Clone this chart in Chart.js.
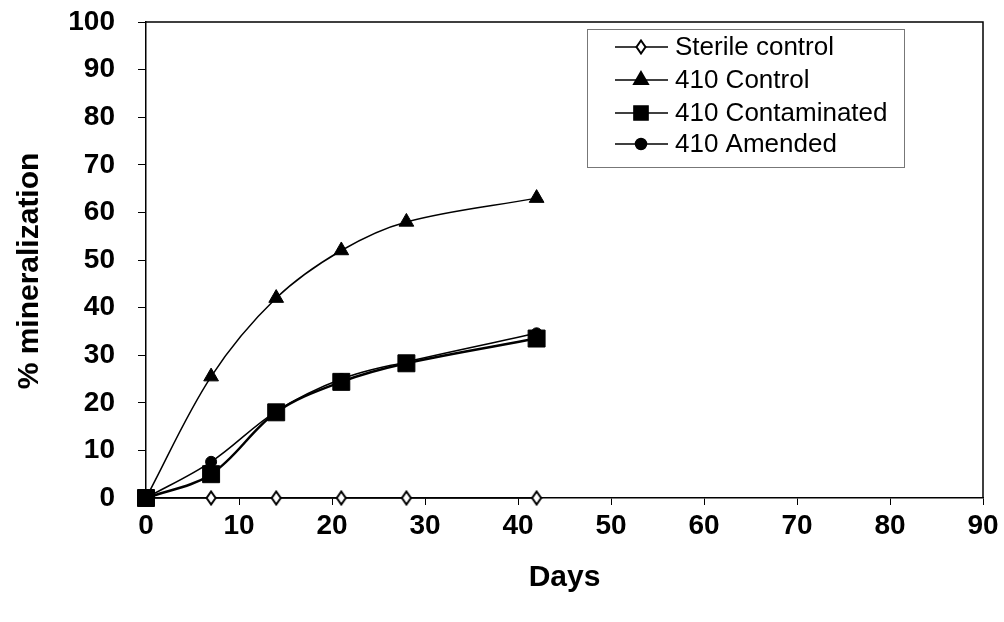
<!DOCTYPE html>
<html>
<head>
<meta charset="utf-8">
<script src="https://cdn.jsdelivr.net/npm/chart.js@4.4.1/dist/chart.umd.min.js"></script>
<style>
html,body{margin:0;padding:0;background:#fff;}
#wrap{width:1004px;height:622px;position:relative;}
</style>
</head>
<body>
<div id="wrap"><canvas id="c" width="1004" height="622"></canvas></div>
<script>
const days = [0, 7, 14, 21, 28, 42];
const sterileControl = [0, 0, 0, 0, 0, 0];
const control410 = [0, 25.5, 42, 52, 58, 63];
const contaminated410 = [0, 5, 18, 24.4, 28.3, 33.5];
const amended410 = [0, 7.6, 18.2, 25, 28.6, 34.6];
const seriesLabels = ['Sterile control', '410 Control', '410 Contaminated', '410 Amended'];
const xTicks = [0, 10, 20, 30, 40, 50, 60, 70, 80, 90];
const yTicks = [0, 10, 20, 30, 40, 50, 60, 70, 80, 90, 100];
const xTitle = 'Days';
const yTitle = '% mineralization';

// elongated open diamond marker
function diamondImg(){
  const cv = document.createElement('canvas');
  cv.width = 12; cv.height = 16;
  const g = cv.getContext('2d');
  g.beginPath();
  g.moveTo(6, 1.5); g.lineTo(10.5, 8); g.lineTo(6, 14.5); g.lineTo(1.5, 8); g.closePath();
  g.fillStyle = '#fff'; g.fill();
  g.lineWidth = 2; g.strokeStyle = '#000'; g.stroke();
  return cv;
}
const diamond = diamondImg();

function pts(ys){ return days.map((d,i)=>({x:d, y:ys[i]})); }

const styles = [
  {pointStyle: diamond, radius: 6, borderWidth: 1.5, lineWidth: 1.5},
  {pointStyle: 'triangle', radius: 8.5, borderWidth: 1, lineWidth: 1.5},
  {pointStyle: 'rect', radius: 12, borderWidth: 1, lineWidth: 2.5},
  {pointStyle: 'circle', radius: 5.5, borderWidth: 1, lineWidth: 1.5}
];
const seriesData = [sterileControl, control410, contaminated410, amended410];

const datasets = seriesData.map((ys, i) => ({
  label: seriesLabels[i],
  data: pts(ys),
  borderColor: '#000',
  backgroundColor: '#000',
  borderWidth: styles[i].lineWidth,
  pointStyle: styles[i].pointStyle,
  pointRadius: styles[i].radius,
  pointBorderWidth: styles[i].borderWidth,
  pointBackgroundColor: '#000',
  pointBorderColor: '#000',
  tension: 0.35,
  clip: false,
  order: i === 0 ? 4 : i
}));

const boxPlugin = {
  id: 'box',
  afterDraw(chart){
    const {ctx, chartArea:a} = chart;
    ctx.save();
    ctx.strokeStyle = '#000';
    ctx.lineWidth = 1.5;
    ctx.beginPath();
    ctx.moveTo(a.left, a.top); ctx.lineTo(a.right, a.top); ctx.lineTo(a.right, a.bottom);
    ctx.stroke();
    // y axis title
    ctx.translate(30, 271);
    ctx.rotate(-Math.PI / 2);
    ctx.fillStyle = '#000';
    ctx.font = 'bold 30px "Liberation Sans", Arial, sans-serif';
    ctx.textAlign = 'center';
    ctx.textBaseline = 'middle';
    ctx.fillText(yTitle, 0, 0);
    ctx.restore();
  }
};

const legendPlugin = {
  id: 'customLegend',
  afterDraw(chart){
    const ctx = chart.ctx;
    ctx.save();
    const bx = 587, by = 29, bw = 317, bh = 138;
    ctx.fillStyle = '#fff';
    ctx.fillRect(bx, by, bw, bh);
    ctx.strokeStyle = '#777';
    ctx.lineWidth = 1;
    ctx.strokeRect(bx + 0.5, by + 0.5, bw, bh);
    const rows = [47, 80, 113, 144];
    chart.data.datasets.forEach((ds, i) => {
      const y = rows[i];
      ctx.strokeStyle = '#000';
      ctx.lineWidth = 1.5;
      ctx.beginPath(); ctx.moveTo(615, y); ctx.lineTo(668, y); ctx.stroke();
      Chart.helpers.drawPoint(ctx, {
        pointStyle: ds.pointStyle,
        radius: i === 2 ? 10 : ds.pointRadius,
        borderWidth: ds.pointBorderWidth,
        rotation: 0
      }, 641, y);
      ctx.fillStyle = '#000';
      ctx.font = '26px "Liberation Sans", Arial, sans-serif';
      ctx.textBaseline = 'middle';
      ctx.textAlign = 'left';
      ctx.fillText(ds.label, 675, y + 1);
    });
    ctx.restore();
  }
};

Chart.defaults.font.family = '"Liberation Sans", Arial, sans-serif';
Chart.defaults.color = '#000';

new Chart(document.getElementById('c'), {
  type: 'line',
  data: { datasets },
  options: {
    responsive: false,
    animation: false,
    devicePixelRatio: 1,
    layout: { padding: { top: 22, right: 21, left: 0, bottom: 0 } },
    plugins: { legend: { display: false }, tooltip: { enabled: false } },
    scales: {
      x: {
        type: 'linear',
        min: 0, max: 90,
        afterBuildTicks(s){ s.ticks = xTicks.map(v => ({value: v})); },
        afterFit(s){ s.height = 124; s.paddingLeft = 0; s.paddingRight = 0; },
        border: { color: '#000', width: 1.5 },
        grid: { drawOnChartArea: false, drawTicks: true, tickLength: 7, color: '#000', lineWidth: 1 },
        ticks: { font: { size: 28, weight: 'bold' }, padding: 4, color: '#000', maxRotation: 0 },
        title: { display: true, text: xTitle, font: { size: 30, weight: 'bold' }, color: '#000', padding: { top: 0, bottom: 26 } }
      },
      y: {
        type: 'linear',
        min: 0, max: 100,
        afterBuildTicks(s){ s.ticks = yTicks.map(v => ({value: v})); },
        afterFit(s){ s.width = 146; s.paddingTop = 0; s.paddingBottom = 0; },
        border: { color: '#000', width: 1.5 },
        grid: { drawOnChartArea: false, drawTicks: true, tickLength: 8, color: '#000', lineWidth: 1 },
        ticks: { font: { size: 28, weight: 'bold' }, padding: 23, color: '#000' },
        title: { display: false }
      }
    }
  },
  plugins: [boxPlugin, legendPlugin]
});
</script>
</body>
</html>
